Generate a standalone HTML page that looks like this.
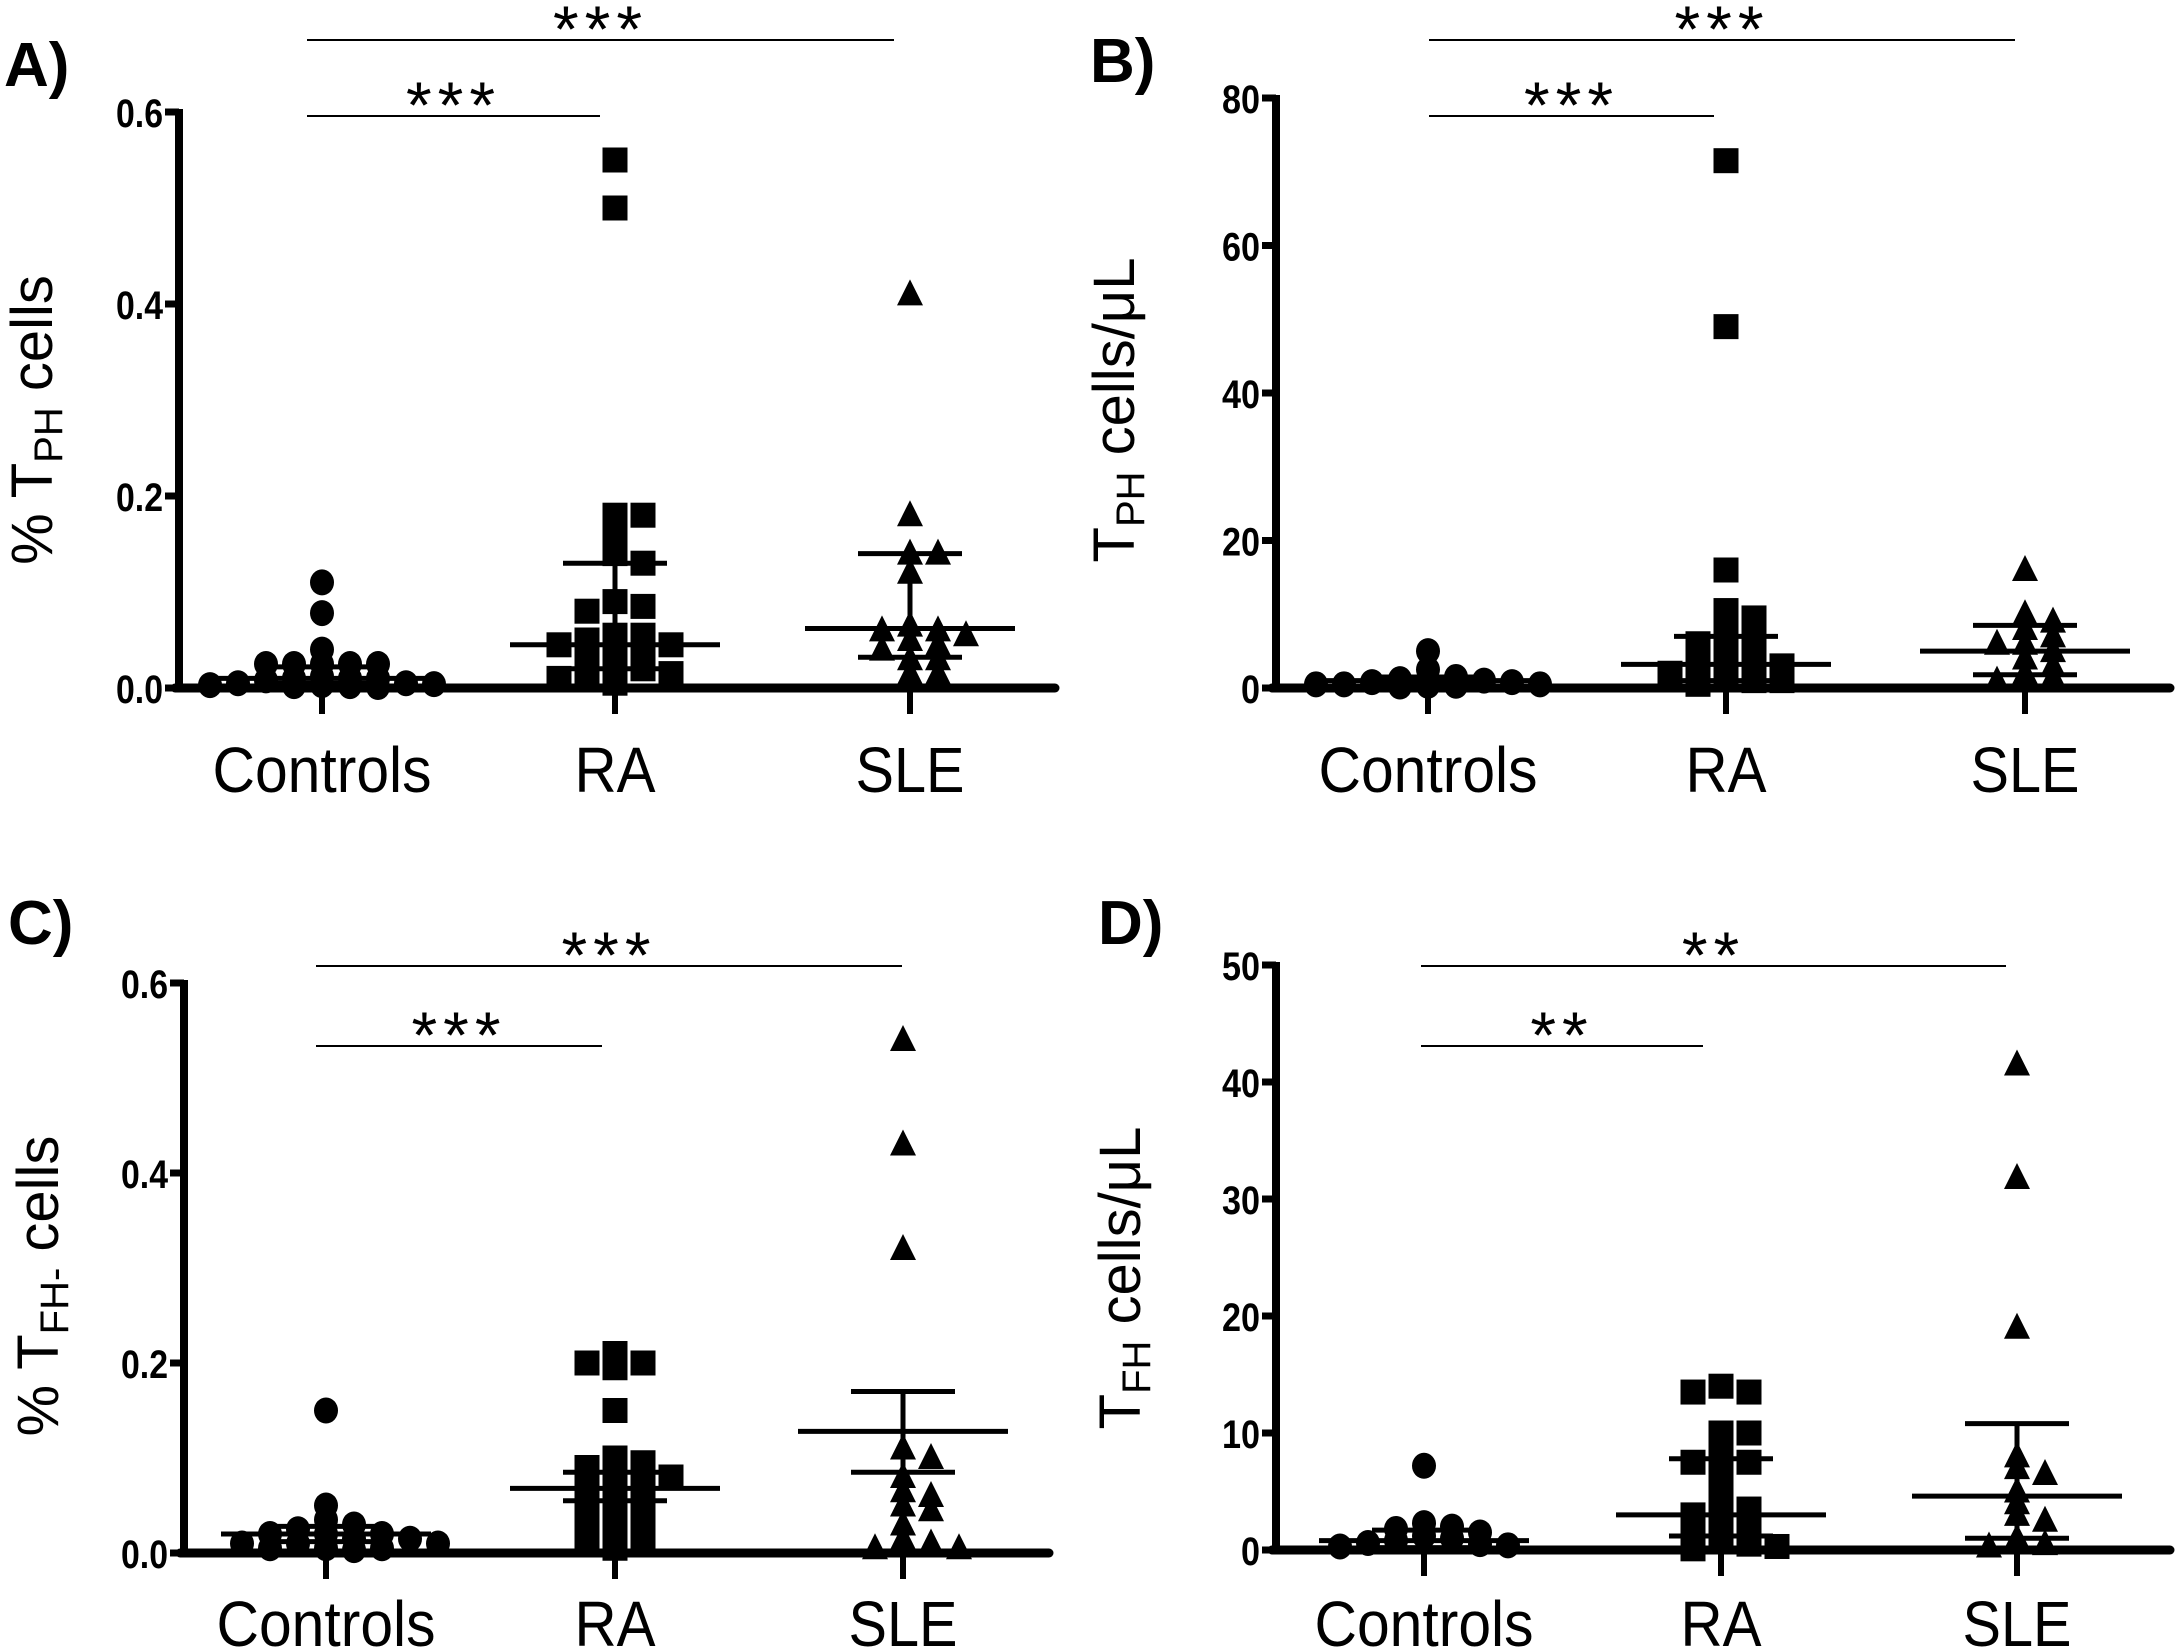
<!DOCTYPE html>
<html><head><meta charset="utf-8"><style>
html,body{margin:0;padding:0;background:#fff;}
svg{display:block;}
text{font-family:"Liberation Sans",sans-serif;fill:#000;}
.tick{font-weight:bold;font-size:40px;}
.cat{font-size:64px;}
.plabel{font-weight:bold;font-size:62px;}
.ttl{font-size:58px;}
.star{font-size:66px;}
</style></head><body>
<svg id="fig" width="2175" height="1651" viewBox="0 0 2175 1651" xmlns="http://www.w3.org/2000/svg"></svg>
<script>
const categories = ["Controls","RA","SLE"];
// Panel A: % TPH cells
const aControls = [0.11,0.078,0.04,0.025,0.025,0.025,0.025,0.025,0.012,0.01,0.01,0.01,0.008,0.005,0.005,0.004,0.003,0.003,0.002,0.002,0.001];
const aRA = [0.55,0.5,0.18,0.18,0.155,0.14,0.13,0.09,0.085,0.08,0.055,0.055,0.05,0.045,0.045,0.04,0.035,0.03,0.02,0.02,0.015,0.015,0.01,0.005];
const aSLE = [0.41,0.18,0.14,0.14,0.12,0.065,0.06,0.06,0.055,0.05,0.045,0.04,0.03,0.03,0.015,0.015];
const aCenter = [0.01,0.045,0.062], aLow = [0.005,0.02,0.032], aHigh = [0.022,0.13,0.14];
const aTicks = [0,0.2,0.4,0.6], aTickLabels = ["0.0","0.2","0.4","0.6"];
// Panel B: TPH cells/uL
const bControls = [5,2.5,1.5,1.2,1,1,0.8,0.8,0.5,0.5,0.5,0.3,0.3,0.2];
const bRA = [71.5,49,16,10.5,9.5,8,7,6.5,6,5,4,4,3,3,2.5,2,2,1.5,1,1,0.5];
const bSLE = [16,10,9,8,7,6,6,5,4,3,2,1.5,1];
const bCenter = [1,3.2,5], bLow = [0.5,1,1.8], bHigh = [1.5,7,8.5];
const bTicks = [0,20,40,60,80], bTickLabels = ["0","20","40","60","80"];
// Panel C: % TFH cells
const cControls = [0.15,0.05,0.035,0.03,0.025,0.02,0.02,0.02,0.015,0.015,0.01,0.01,0.01,0.005,0.005,0.005,0.003];
const cRA = [0.21,0.2,0.2,0.195,0.15,0.1,0.095,0.09,0.085,0.08,0.08,0.075,0.07,0.065,0.06,0.05,0.045,0.04,0.035,0.03,0.025,0.02,0.015,0.01,0.005];
const cSLE = [0.54,0.43,0.32,0.11,0.1,0.08,0.065,0.06,0.05,0.045,0.03,0.015,0.01,0.005,0.005];
const cCenter = [0.02,0.068,0.128], cLow = [0.012,0.055,0.085], cHigh = [0.028,0.085,0.17];
const cTicks = [0,0.2,0.4,0.6], cTickLabels = ["0.0","0.2","0.4","0.6"];
// Panel D: TFH cells/uL
const dControls = [7.2,2.3,2,1.8,1.5,1.2,1,0.8,0.6,0.5,0.4,0.3];
const dRA = [14,13.5,13.5,10,10,8,7.5,7.5,6,5,4,3.5,3,3,2.5,2,1.5,1.2,1,0.5,0.3,0.1];
const dSLE = [41.5,31.8,19,8,7,6.5,5,4,3,2.5,1,0.5,0.3];
const dCenter = [0.8,3,4.6], dLow = [0.2,1.2,1], dHigh = [1.7,7.8,10.8];
const dTicks = [0,10,20,30,40,50], dTickLabels = ["0","10","20","30","40","50"];

const catWidths = [219,81,109];
const NS="http://www.w3.org/2000/svg";
const svg=document.getElementById('fig');
function mk(tag,attrs,parent){const e=document.createElementNS(NS,tag);for(const k in attrs)e.setAttribute(k,attrs[k]);(parent||svg).appendChild(e);return e;}

function panel(p){
  const g=mk('g',{});
  
  
  const y=v=>p.y0+(v-p.min)/(p.max-p.min)*(p.yTop-p.y0);
  const lab=mk('text',{x:p.lx,y:p.ly,class:'plabel'},g);lab.textContent=p.id.toUpperCase()+')';
  
  
  const ya=mk('line',{x1:p.ax,y1:y(p.max)-3,x2:p.ax,y2:p.y0+4,stroke:'#000','stroke-width':8},g);
  
  
  const xa=mk('line',{x1:p.ax-4,y1:p.y0,x2:p.axEnd,y2:p.y0,stroke:'#000','stroke-width':9,'stroke-linecap':'round'},g);
  
  
  p.ticks.forEach((t,i)=>{
    const tl=mk('line',{x1:p.ax-14,y1:y(t),x2:p.ax,y2:y(t),stroke:'#000','stroke-width':7},g);
    
    
    const s=p.tickLabels[i];let w=0;for(const ch of s)w+=(ch==='.'?9:19);
    const tx=mk('text',{x:p.ax-16,y:y(t)+15,class:'tick','text-anchor':'end',textLength:w,lengthAdjust:'spacingAndGlyphs'},g);tx.textContent=s;
    
    
  });
  const tt=mk('text',{x:0,y:0,class:'ttl','text-anchor':'middle',transform:`translate(${p.tx},${p.ty}) rotate(-90)`},g);
  tt.innerHTML=p.title;
  
  
  p.series.forEach((vals,ci)=>{
    const cx=p.cx[ci];
    const ct=mk('line',{x1:cx,y1:p.y0,x2:cx,y2:p.y0+26,stroke:'#000','stroke-width':6},g);
    
    
    const cl=mk('text',{x:cx,y:p.catY,class:'cat','text-anchor':'middle',textLength:catWidths[ci],lengthAdjust:'spacingAndGlyphs'},g);cl.textContent=categories[ci];
    
    
    const placed=[];const step=28;const maxK=8;
    const sorted=vals.slice().sort((a,b)=>b-a);
    sorted.forEach(v=>{
      const py=y(v);let best=0,bestC=1e9;
      for(let k=0;k<=maxK;k++){
        const cand=k===0?0:(k%2?1:-1)*Math.ceil(k/2)*step;
        const c=placed.filter(q=>Math.abs(q.x-cand)<step*0.9&&Math.abs(q.y-py)<11).length;
        if(c<bestC){bestC=c;best=cand;}
        if(c===0)break;
      }
      placed.push({x:best,y:py});
      const px=cx+best;let m;
      if(p.shape[ci]==='c'){m=mk('ellipse',{cx:px,cy:py,rx:12,ry:13,fill:'#000'},g);}
      else if(p.shape[ci]==='s'){m=mk('rect',{x:px-12.5,y:py-12.5,width:25,height:25,fill:'#000'},g);}
      else{m=mk('polygon',{points:`${px},${py-15} ${px-13},${py+11} ${px+13},${py+11}`,fill:'#000'},g);}
      
      
    });
    const cl1=mk('line',{x1:cx-105,y1:y(p.center[ci]),x2:cx+105,y2:y(p.center[ci]),stroke:'#000','stroke-width':5},g);
    
    
    const eb=mk('line',{x1:cx,y1:y(p.low[ci]),x2:cx,y2:y(p.high[ci]),stroke:'#000','stroke-width':5},g);
    
    
    [p.low[ci],p.high[ci]].forEach(v=>{
      const cp=mk('line',{x1:cx-52,y1:y(v),x2:cx+52,y2:y(v),stroke:'#000','stroke-width':5},g);
      
      
    });
  });
  p.sig.forEach(s=>{
    const l=mk('line',{x1:s.x1,y1:s.y,x2:s.x2,y2:s.y,stroke:'#000','stroke-width':2},g);
    
    
    const t=mk('text',{x:(s.x1+s.x2)/2,y:s.y+12,class:'star','text-anchor':'middle','letter-spacing':'6'},g);t.textContent=s.t;
    
    
  });
}
panel({id:'a',series:[aControls,aRA,aSLE],shape:['c','s','t'],center:aCenter,low:aLow,high:aHigh,ticks:aTicks,tickLabels:aTickLabels,
 min:0,max:0.6,y0:688,yTop:112,ax:179,axEnd:1055,cx:[322,615,910],catY:792,lx:4,ly:86,tx:52,ty:420,
 title:'% T<tspan font-size="40" dy="10">PH</tspan><tspan dy="-10"> cells</tspan>',
 sig:[{x1:307,x2:894,y:40,t:'***'},{x1:307,x2:600,y:116,t:'***'}]});
panel({id:'b',series:[bControls,bRA,bSLE],shape:['c','s','t'],center:bCenter,low:bLow,high:bHigh,ticks:bTicks,tickLabels:bTickLabels,
 min:0,max:80,y0:688,yTop:98,ax:1276,axEnd:2170,cx:[1428,1726,2025],catY:792,lx:1090,ly:82,tx:1134,ty:410,
 title:'T<tspan font-size="40" dy="10">PH</tspan><tspan dy="-10"> cells/μL</tspan>',
 sig:[{x1:1429,x2:2015,y:40,t:'***'},{x1:1429,x2:1714,y:116,t:'***'}]});
panel({id:'c',series:[cControls,cRA,cSLE],shape:['c','s','t'],center:cCenter,low:cLow,high:cHigh,ticks:cTicks,tickLabels:cTickLabels,
 min:0,max:0.6,y0:1553,yTop:983,ax:184,axEnd:1049,cx:[326,615,903],catY:1646,lx:8,ly:944,tx:58,ty:1286,
 title:'% T<tspan font-size="40" dy="10">FH-</tspan><tspan dy="-10"> cells</tspan>',
 sig:[{x1:316,x2:902,y:966,t:'***'},{x1:316,x2:602,y:1046,t:'***'}]});
panel({id:'d',series:[dControls,dRA,dSLE],shape:['c','s','t'],center:dCenter,low:dLow,high:dHigh,ticks:dTicks,tickLabels:dTickLabels,
 min:0,max:50,y0:1550,yTop:965,ax:1276,axEnd:2170,cx:[1424,1721,2017],catY:1646,lx:1098,ly:944,tx:1140,ty:1278,
 title:'T<tspan font-size="40" dy="10">FH</tspan><tspan dy="-10"> cells/μL</tspan>',
 sig:[{x1:1421,x2:2006,y:966,t:'**'},{x1:1421,x2:1703,y:1046,t:'**'}]});
</script>
</body></html>
